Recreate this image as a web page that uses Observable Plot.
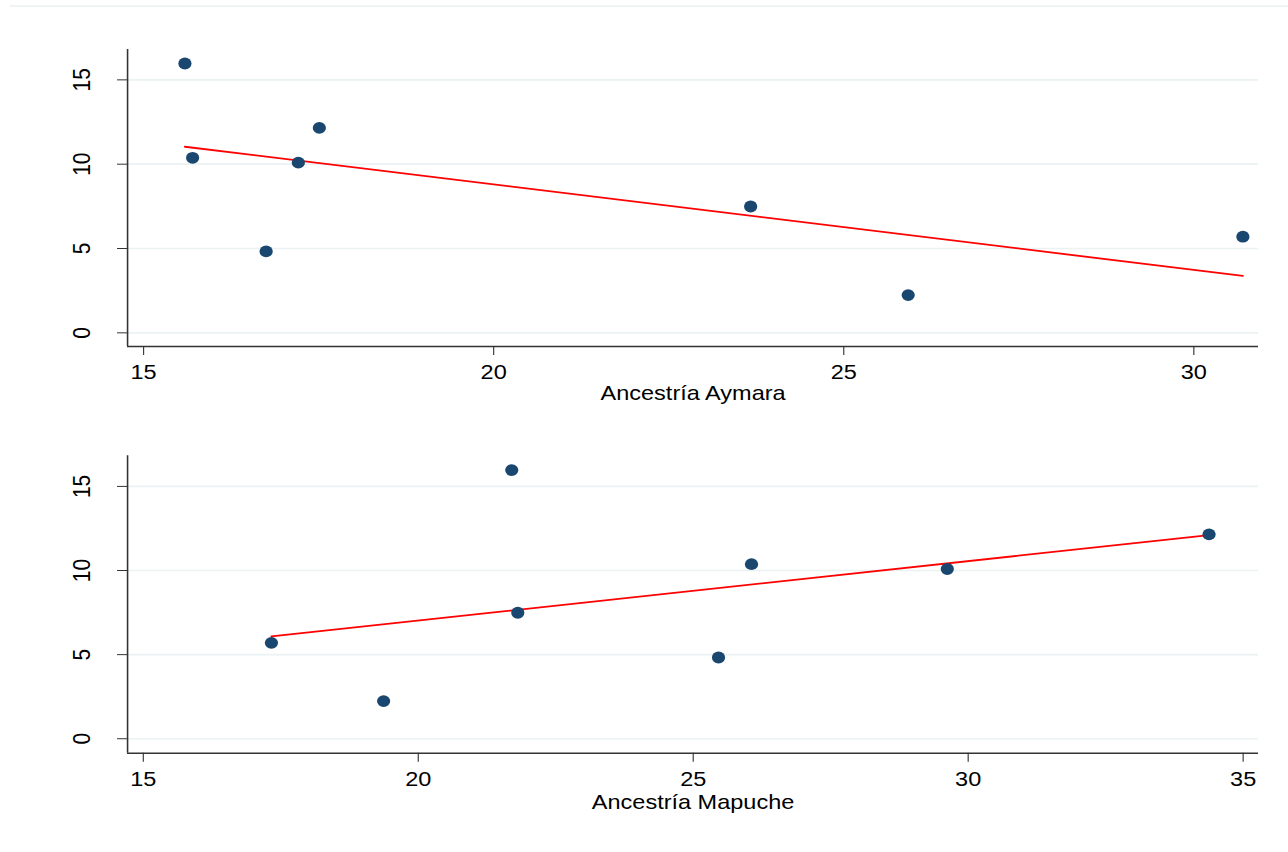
<!DOCTYPE html>
<html>
<head>
<meta charset="utf-8">
<script src="https://cdn.jsdelivr.net/npm/d3@7"></script>
<script src="https://cdn.jsdelivr.net/npm/@observablehq/plot@0.6"></script>
<style>
  html, body { margin: 0; padding: 0; background: #fff; }
  #wrap { width: 1150px; transform: scaleX(1.12); transform-origin: 0 0; position: relative; }
  #topline { position: absolute; left: 9px; right: 0; top: 5px; height: 2px; background: #eef3f4; }
  svg { display: block; }
</style>
</head>
<body>
<div id="wrap"><div id="topline"></div></div>
<script>
// Outcome (y) for the eight regions, shared by both panels
const outcome = [15.97, 10.38, 4.83, 10.09, 12.15, 7.49, 2.24, 5.70];
// Ancestry percentages for the same eight regions
const ancestryAymara  = [15.59, 15.70, 16.75, 17.21, 17.51, 23.67, 25.92, 30.70];
const ancestryMapuche = [21.70, 26.06, 25.46, 29.62, 34.38, 21.81, 19.37, 17.33];
// Tick labels
const yTicks = [0, 5, 10, 15];
const xTicksAymara = [15, 20, 25, 30];
const xTicksMapuche = [15, 20, 25, 30, 35];
const labelAymara = "Ancestría Aymara";
const labelMapuche = "Ancestría Mapuche";

const FONT = "'Liberation Sans', Arial, Helvetica, sans-serif";

function panel({xs, xDomain, xTicks, yDomain, label, labelDy, height, marginTop, marginBottom}) {
  const data = xs.map((x, i) => ({x, y: outcome[i]}));
  return Plot.plot({
    width: 1150,
    height,
    marginTop,
    marginBottom,
    marginLeft: 113.4,
    marginRight: 26.8,
    style: {fontFamily: FONT, fontSize: "21px", color: "#000", background: "#fff", overflow: "visible"},
    x: {domain: xDomain},
    y: {domain: yDomain},
    marks: [
      Plot.gridY(yTicks, {stroke: "#eaf2f3", strokeOpacity: 1, strokeWidth: 1.7}),
      Plot.ruleX([xDomain[0]], {stroke: "#333", strokeWidth: 1.4}),
      Plot.ruleY([yDomain[0]], {stroke: "#333", strokeWidth: 1.4}),
      Plot.axisY(yTicks, {tickSize: 8.9, tickRotate: -90, tickPadding: 24.8, stroke: "#333", label: null, fontSize: 21}),
      Plot.axisX(xTicks, {tickSize: 9, tickPadding: 8.6, stroke: "#333", label: null, fontSize: 21}),
      Plot.linearRegressionY(data, {x: "x", y: "y", stroke: "#ff0000", strokeWidth: 1.8, ci: 0}),
      Plot.dot(data, {x: "x", y: "y", r: 5.9, fill: "#1a476f", stroke: "none"}),
      Plot.text([label], {frameAnchor: "bottom", dy: labelDy, lineAnchor: "middle", fontSize: 21, fill: "#000"})
    ]
  });
}

const wrap = document.getElementById("wrap");
wrap.appendChild(panel({
  xs: ancestryAymara,
  xDomain: [14.771, 30.924],
  xTicks: xTicksAymara,
  yDomain: [-0.81, 16.80],
  label: labelAymara,
  labelDy: 47,
  height: 420,
  marginTop: 49,
  marginBottom: 74
}));
wrap.appendChild(panel({
  xs: ancestryMapuche,
  xDomain: [14.714, 35.28],
  xTicks: xTicksMapuche,
  yDomain: [-0.86, 16.82],
  label: labelMapuche,
  labelDy: 49.5,
  height: 432,
  marginTop: 35.3,
  marginBottom: 99.3
}));
</script>
</body>
</html>
